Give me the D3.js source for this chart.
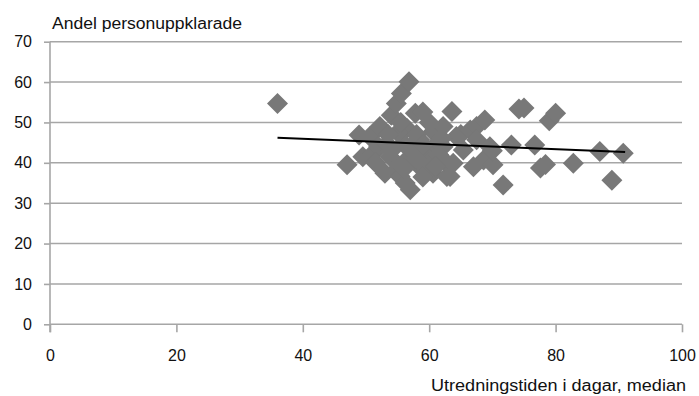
<!DOCTYPE html>
<html><head><meta charset="utf-8">
<script src="https://cdn.jsdelivr.net/npm/d3@7"></script>
<style>body{margin:0;background:#fff}svg{display:block}text{font-family:"Liberation Sans",Arial,Helvetica,sans-serif;fill:#111}</style>
</head><body><svg id="c" width="699" height="396"></svg>
<script>
const xTicks = [0, 20, 40, 60, 80, 100];
const yTicks = [0, 10, 20, 30, 40, 50, 60, 70];
const utredningstid = [36,47,48.9,50.6,49.5,51.1,52.2,52,51.5,53.3,53.8,53,54.8,54,54.8,55.6,56.8,55.9,55.4,56.4,56.2,57,57.8,56.5,58.5,58.5,57.5,59,59.6,60.6,60.6,60,61,62.2,62.8,62.8,62.2,63.6,63.8,64.3,63.3,65.4,65,66.5,67.5,67.5,67,68.8,68.6,69.6,70.1,70,73,71.7,74.2,75,76.7,77.6,78.4,79,80,82.8,87,88.9,90.7,58,55,53.5,61.5,59,57,59,54,56,61,58,55.5,60,62];
const andel = [54.7,39.5,46.9,46.5,41.5,42.4,49,44,40,44.8,41.5,37.4,38.2,51.8,54.7,57.2,60.1,44.8,36.6,40.7,35,33.3,52.3,48.5,45.7,39,42.5,52.6,42.4,47.7,37.4,40,44.5,49,36.6,39.9,44,52.7,39.9,46.5,36.6,43.2,47,48.1,49,45.7,39,50.6,40.7,44,39.5,43,44.4,34.5,53.3,53.6,44.4,38.7,39.6,50.4,52.3,39.9,42.8,35.7,42.4,47,47.5,47,42,36.5,44,44.5,43,38.5,39,41,50,50,46];
const trendX = [36, 91];
const trendY = [46.2, 42.7];
const yTitle = "Andel personuppklarade";
const xTitle = "Utredningstiden i dagar, median";

const svg = d3.select("#c");
const x = d3.scaleLinear().domain([0,100]).range([50,682]);
const y = d3.scaleLinear().domain([0,70]).range([324.3,41.7]);
const grid = "#a6a6a6";
const FS = 16;

svg.append("g").selectAll("line").data(yTicks.filter(d=>d>0)).join("line")
  .attr("x1",x(0)).attr("x2",x(100)).attr("y1",d=>y(d)).attr("y2",d=>y(d))
  .attr("stroke",grid).attr("stroke-width",1.6);

const ya = svg.append("g").attr("transform",`translate(${x(0)},0)`)
  .call(d3.axisLeft(y).tickValues(yTicks).tickSize(6).tickPadding(12));
ya.select(".domain").attr("stroke",grid).attr("stroke-width",1.6).attr("d",`M0,${y(70)}V${y(0)+8}`);
ya.selectAll(".tick line").attr("stroke",grid).attr("stroke-width",1.6);
ya.selectAll(".tick text").attr("font-size",FS).attr("font-family","Liberation Sans, Arial, sans-serif").attr("fill","#111");

const xa = svg.append("g").attr("transform",`translate(0,${y(0)})`)
  .call(d3.axisBottom(x).tickValues(xTicks).tickSize(8).tickPadding(17));
xa.select(".domain").attr("stroke",grid).attr("stroke-width",1.6).attr("d",`M${x(0)},0H${x(100)}`);
xa.selectAll(".tick line").attr("stroke",grid).attr("stroke-width",1.6);
xa.selectAll(".tick text").attr("font-size",FS).attr("font-family","Liberation Sans, Arial, sans-serif").attr("fill","#111");

const pts = utredningstid.map((v,i)=>[v,andel[i]]);
svg.append("g").selectAll("path").data(pts).join("path")
  .attr("transform",d=>`translate(${x(d[0])},${y(d[1])})`)
  .attr("d","M0,-10.5L10.5,0L0,10.5L-10.5,0Z")
  .attr("fill","#787878");

svg.append("line")
  .attr("x1",x(trendX[0])).attr("y1",y(trendY[0]))
  .attr("x2",x(trendX[1])).attr("y2",y(trendY[1]))
  .attr("stroke","#000").attr("stroke-width",2);

svg.append("text").attr("x",52).attr("y",29).attr("font-size",FS)
  .attr("textLength",190).attr("lengthAdjust","spacingAndGlyphs").text(yTitle);
svg.append("text").attr("x",686).attr("y",391).attr("text-anchor","end").attr("font-size",FS)
  .attr("textLength",255).attr("lengthAdjust","spacingAndGlyphs").text(xTitle);
</script></body></html>
